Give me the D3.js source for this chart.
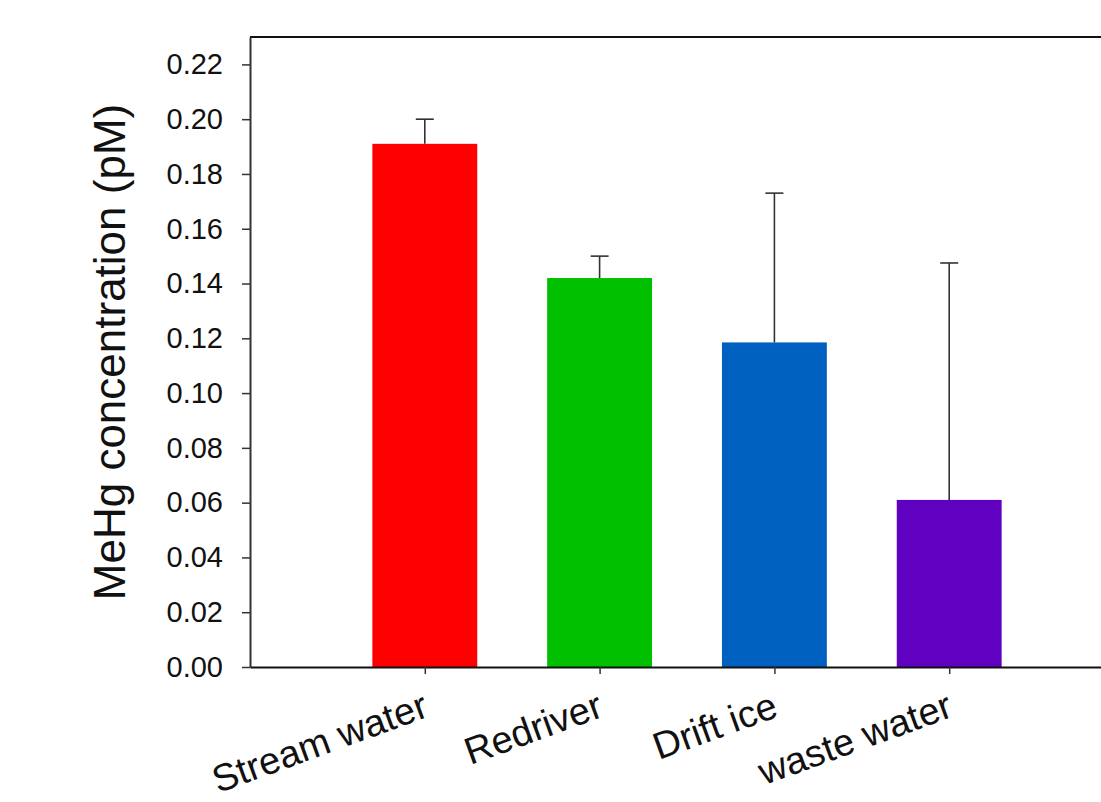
<!DOCTYPE html>
<html>
<head>
<meta charset="utf-8">
<script src="https://cdn.jsdelivr.net/npm/d3@7"></script>
<style>
  html, body { margin: 0; padding: 0; background: #fff; }
  svg { display: block; font-family: "Liberation Sans", Arial, sans-serif; }
</style>
</head>
<body>
<div id="chart"></div>
<script>
// MeHg concentration per sample type
const categories = ['Stream water', 'Redriver', 'Drift ice', 'waste water'];
const means = [0.191, 0.142, 0.1185, 0.061];
const errUp = [0.200, 0.150, 0.173, 0.1475];
const barColours = ['#ff0000', '#00c000', '#0060c0', '#6000c0'];
const yTicks = [0, 0.02, 0.04, 0.06, 0.08, 0.10, 0.12, 0.14, 0.16, 0.18, 0.20, 0.22];

const width = 1101, height = 802;
const plot = { left: 250, top: 37, bottom: 667, right: 1124 };

const svg = d3.select('#chart').append('svg')
  .attr('width', width)
  .attr('height', height);

let x = d3.scaleLinear().domain([0, categories.length + 1]).range([plot.left, plot.right]);
let y = d3.scaleLinear().domain([0, 0.23]).range([plot.bottom, plot.top]);
const barW = x(0.6) - x(0);

// bars
svg.selectAll('.bar')
  .data(categories)
  .enter().append('rect')
  .attr('class', 'bar')
  .attr('x', (c, i) => x(i + 1) - barW / 2)
  .attr('width', barW)
  .attr('y', (c, i) => y(means[i]))
  .attr('height', (c, i) => y(0) - y(means[i]))
  .style('fill', (c, i) => barColours[i]);

// error bars (upper only)
let err = svg.selectAll('.err')
  .data(categories)
  .enter().append('g')
  .attr('class', 'err')
  .style('stroke', '#333')
  .style('stroke-width', 1.6);

err.append('line')
  .attr('x1', (c, i) => x(i + 1))
  .attr('x2', (c, i) => x(i + 1))
  .attr('y1', (c, i) => y(means[i]))
  .attr('y2', (c, i) => y(errUp[i]));

err.append('line')
  .attr('x1', (c, i) => x(i + 1) - 9)
  .attr('x2', (c, i) => x(i + 1) + 9)
  .attr('y1', (c, i) => y(errUp[i]))
  .attr('y2', (c, i) => y(errUp[i]));

// frame top line
svg.append('line')
  .attr('x1', plot.left).attr('x2', plot.right)
  .attr('y1', plot.top).attr('y2', plot.top)
  .style('stroke', '#111').style('stroke-width', 2);

// y axis
let yAxis = svg.append('g')
  .attr('transform', 'translate(' + plot.left + ',0)')
  .call(d3.axisLeft(y).tickValues(yTicks).tickFormat(d3.format('.2f'))
    .tickSize(8).tickPadding(19).tickSizeOuter(0));
yAxis.select('.domain').style('stroke', '#333').style('stroke-width', 2);
yAxis.selectAll('.tick line').style('stroke', '#333').style('stroke-width', 1.5);
yAxis.selectAll('text')
  .style('font-size', '29px')
  .style('fill', '#111')
  .style('font-family', '"Liberation Sans", Arial, sans-serif');

// x axis
let xAxis = svg.append('g')
  .attr('transform', 'translate(0,' + plot.bottom + ')')
  .call(d3.axisBottom(x).tickValues(d3.range(1, categories.length + 1))
    .tickFormat(i => categories[i - 1]).tickSize(7).tickSizeOuter(0));
xAxis.select('.domain').style('stroke', '#111').style('stroke-width', 2);
xAxis.selectAll('.tick line').style('stroke', '#333').style('stroke-width', 1.5);
xAxis.selectAll('text')
  .attr('y', 0).attr('dy', 0)
  .attr('transform', 'translate(5,49) rotate(-20)')
  .style('text-anchor', 'end')
  .style('font-size', '38px')
  .style('fill', '#111')
  .style('font-family', '"Liberation Sans", Arial, sans-serif');

// y title
svg.append('text')
  .attr('transform', 'translate(125,' + (plot.top + plot.bottom) / 2 + ') rotate(-90)')
  .attr('text-anchor', 'middle')
  .style('font-size', '44px')
  .style('fill', '#111')
  .text('MeHg concentration (pM)');
</script>
</body>
</html>
